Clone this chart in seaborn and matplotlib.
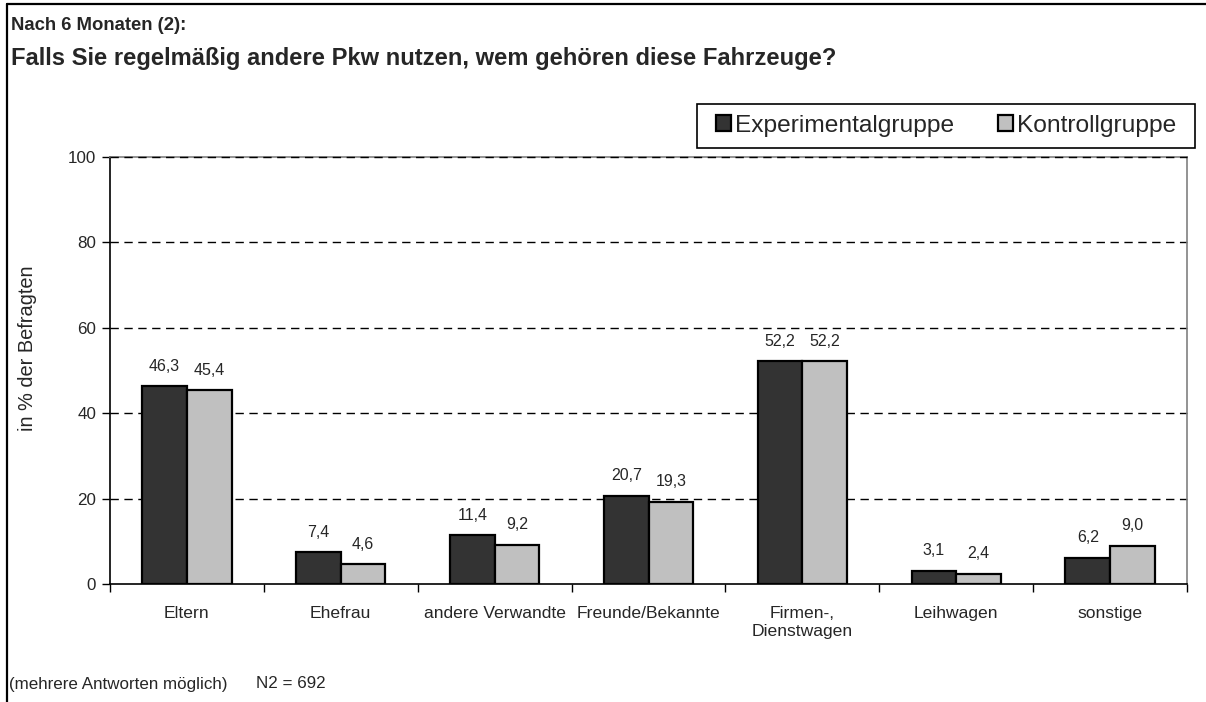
import matplotlib
matplotlib.use("Agg")
import matplotlib.pyplot as plt
from matplotlib.lines import Line2D
from matplotlib.patches import Patch, Rectangle
import numpy as np
import pandas as pd
import seaborn as sns

# Survey answers: who owns the other cars used regularly (in % of respondents)
categories = ["Eltern", "Ehefrau", "andere Verwandte", "Freunde/Bekannte",
              "Firmen-,\nDienstwagen", "Leihwagen", "sonstige"]
experimental = [46.3, 7.4, 11.4, 20.7, 52.2, 3.1, 6.2]
kontroll = [45.4, 4.6, 9.2, 19.3, 52.2, 2.4, 9.0]
groups = ["Experimentalgruppe", "Kontrollgruppe"]
y_ticks = [0, 20, 40, 60, 80, 100]

df = pd.DataFrame({
    "Kategorie": categories * 2,
    "Gruppe": [groups[0]] * len(categories) + [groups[1]] * len(categories),
    "Wert": experimental + kontroll,
})

sns.set_theme(style="white")
plt.rcParams["font.family"] = ["Liberation Sans", "DejaVu Sans"]

W, H = 1206, 702
fig = plt.figure(figsize=(W / 100, H / 100), dpi=100)
fig.patch.set_facecolor("white")

def px(v):
    return v * 72 / 100  # pixel size -> points at 100 dpi

ax_left, ax_right, ax_top, ax_bottom = 110, 1187, 157, 584
ax = fig.add_axes([ax_left / W, 1 - ax_bottom / H,
                   (ax_right - ax_left) / W, (ax_bottom - ax_top) / H])

palette = {groups[0]: "#333333", groups[1]: "#c0c0c0"}
sns.barplot(data=df, x="Kategorie", y="Wert", hue="Gruppe", order=categories,
            hue_order=groups, palette=palette, width=0.58, edgecolor="black",
            linewidth=1.6, saturation=1, ax=ax, legend=False, zorder=3)

ax.set_ylim(0, 100)
ax.set_xlim(-0.5, len(categories) - 0.5)
ax.set_yticks(y_ticks)
ax.set_yticklabels([str(t) for t in y_ticks], fontsize=px(17))
for t in y_ticks[1:]:
    ax.axhline(t, color="black", lw=1, ls=(0, (6, 4)),
               zorder=2.6 if t == y_ticks[-1] else 1, clip_on=False)

# Category boundaries carry the x tick marks, labels sit at centres
ax.set_xticks(np.arange(len(categories)))
ax.set_xticklabels(categories, fontsize=px(17.5), linespacing=1.2)
ax.set_xticks(np.arange(len(categories) + 1) - 0.5, minor=True)
ax.tick_params(axis="x", which="major", length=0, pad=16)
ax.tick_params(axis="x", which="minor", length=6, width=1, color="black",
               direction="out", bottom=True)
ax.tick_params(axis="y", length=6, width=1, color="black", direction="out",
               left=True, pad=4)
ax.set_xlabel("")
ax.set_ylabel("in % der Befragten", fontsize=px(20))
ax.yaxis.set_label_coords(-(110 - 28) / (ax_right - ax_left),
                          (ax_bottom - 348) / (ax_bottom - ax_top))
ax.yaxis.label.set_va("center")

for side in ["left", "bottom"]:
    ax.spines[side].set_color("black")
    ax.spines[side].set_linewidth(1.2)
for side in ["top", "right"]:
    ax.spines[side].set_color("#808080")
    ax.spines[side].set_linewidth(1.2)

# Value labels above the bars
for container, vals in zip(ax.containers, [experimental, kontroll]):
    ax.bar_label(container, labels=[f"{v:.1f}".replace(".", ",") for v in vals],
                 padding=9, fontsize=px(16))

# Legend in its own framed box above the plot area
lx0, lx1, ly0, ly1 = 697, 1195, 104, 148
fig.add_artist(Rectangle((lx0 / W, 1 - ly1 / H), (lx1 - lx0) / W, (ly1 - ly0) / H,
                         transform=fig.transFigure, facecolor="white",
                         edgecolor="black", lw=1.2))
handles = [Patch(facecolor=palette[g], edgecolor="black", linewidth=1.6) for g in groups]
leg = fig.legend(handles, groups, loc="center",
                 bbox_to_anchor=((lx0 + lx1) / 2 / W, 1 - (ly0 + ly1) / 2 / H),
                 ncol=2, frameon=False, fontsize=px(24.5), handlelength=0.62,
                 handleheight=0.62, handletextpad=0.15, columnspacing=1.8,
                 borderpad=0.2)

# Titles
fig.text(11 / W, 1 - 26 / H, "Nach 6 Monaten (2):", fontsize=px(18.5),
         fontweight="bold", va="center", ha="left")
fig.text(11 / W, 1 - 59 / H,
         "Falls Sie regelmäßig andere Pkw nutzen, wem gehören diese Fahrzeuge?",
         fontsize=px(23.8), fontweight="bold", va="center", ha="left")

# Footer notes
fig.text(9 / W, 1 - 684 / H, "(mehrere Antworten möglich)", fontsize=px(17),
         va="center", ha="left")
fig.text(256 / W, 1 - 684 / H, "N2 = 692", fontsize=px(17),
         va="center", ha="left")

# Outer frame lines on the top and left edge
fig.add_artist(Line2D([7 / W, 1], [1 - 4 / H, 1 - 4 / H], color="black", lw=1.6,
                      transform=fig.transFigure))
fig.add_artist(Line2D([7 / W, 7 / W], [0, 1 - 4 / H], color="black", lw=1.6,
                      transform=fig.transFigure))

fig.savefig("out.png", dpi=100, facecolor="white")
